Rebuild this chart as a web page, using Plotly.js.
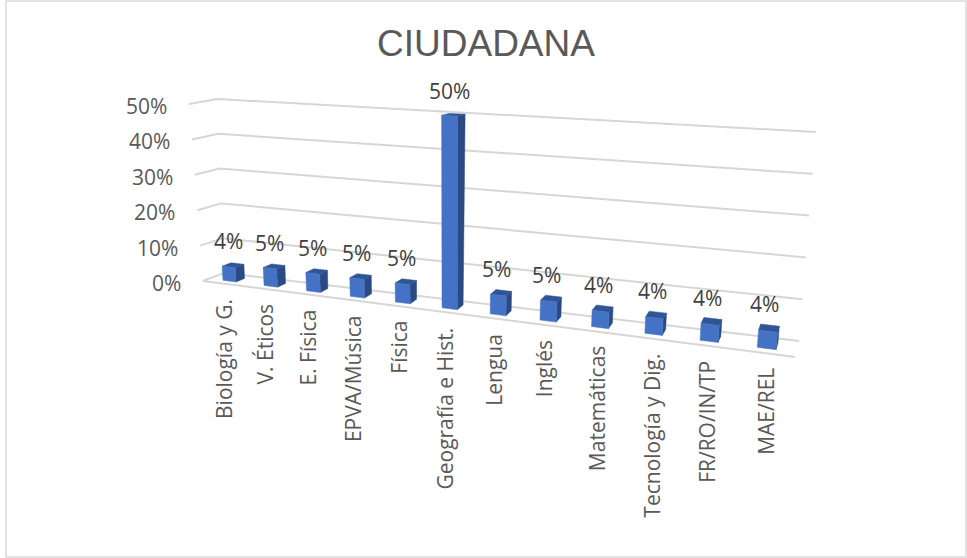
<!DOCTYPE html>
<html><head><meta charset="utf-8">
<script src="https://cdn.plot.ly/plotly-3.0.1.min.js"></script>
<style>html,body{margin:0;padding:0;background:#fff}#c{width:967px;height:558px}</style>
</head><body><div id="c"></div>
<script>
const categories = ["Biología y G.","V. Éticos","E. Física","EPVA/Música","Física","Geografía e Hist.","Lengua","Inglés","Matemáticas","Tecnología y Dig.","FR/RO/IN/TP","MAE/REL"];
const values = [4,5,5,5,5,50,5,5,4,4,4,4];
const axisTicks = [0,10,20,30,40,50];
const chartTitle = "CIUDADANA";

// Perspective box of the 3-D plot area (screen position of its corners)
const box = {
  fl0:[203,281], bl0:[224,273], br0:[799,341], fr0:[795,357],
  fl1:[189,104], bl1:[217,99],  br1:[816,132], fr1:[812,136]
};
const maxZ = 50, foreshorten = 1.22;
const lerp=(a,b,t)=>[a[0]+(b[0]-a[0])*t,a[1]+(b[1]-a[1])*t];
function P(u,d,z){
  const s=u/(u+foreshorten*(1-u));
  const bot=lerp(lerp(box.fl0,box.fr0,s),lerp(box.bl0,box.br0,s),d);
  const top=lerp(lerp(box.fl1,box.fr1,s),lerp(box.bl1,box.br1,s),d);
  return lerp(bot,top,z/maxZ);
}
function poly(pts,color){
  return {type:"scatter",mode:"lines",x:pts.map(p=>p[0]),y:pts.map(p=>p[1]),fill:"toself",
    fillcolor:color,line:{color:color,width:0.5},hoverinfo:"skip",showlegend:false};
}
function line(pts){
  return {type:"scatter",mode:"lines",x:pts.map(p=>p[0]),y:pts.map(p=>p[1]),
    line:{color:"#d6d6d6",width:2},hoverinfo:"skip",showlegend:false};
}
const traces=[];
axisTicks.forEach(t=>{
  traces.push(line([P(0,0,t),P(0,1,t),P(1,1,t)]));
});
traces.push(line([P(0,0,0),P(1,0,0)]));

const n=categories.length, halfW=0.16/n, d0=0.30, d1=0.72;
const annotations=[];
values.forEach((v,i)=>{
  const uc=(i+0.5)/n, a=uc-halfW, b=uc+halfW;
  traces.push(poly([P(b,d0,0),P(b,d1,0),P(b,d1,v),P(b,d0,v),P(b,d0,0)],"#2b4a84"));
  traces.push(poly([P(a,d0,v),P(b,d0,v),P(b,d1,v),P(a,d1,v),P(a,d0,v)],"#2f5597"));
  traces.push(poly([P(a,d0,0),P(b,d0,0),P(b,d0,v),P(a,d0,v),P(a,d0,0)],"#4472c4"));
  const top=P(uc,0.5,v);
  annotations.push({x:top[0]-4,y:top[1]-24,text:v+"%",showarrow:false,xanchor:"center",yanchor:"middle",
    font:{family:"Open Sans",size:21,color:"#404040"}});
  const base=P(uc,0,0);
  annotations.push({x:base[0],y:base[1]+13,text:categories[i],textangle:-90,showarrow:false,xanchor:"center",yanchor:"top",
    font:{family:"Open Sans",size:21,color:"#595959"}});
});
axisTicks.forEach(t=>{
  const p=P(0,0,t);
  annotations.push({x:p[0]-20,y:p[1]+2,text:t+"%",showarrow:false,xanchor:"right",yanchor:"middle",
    font:{family:"Open Sans",size:21,color:"#595959"}});
});
const layout={
  width:967,height:558,margin:{l:0,r:0,t:0,b:0},paper_bgcolor:"#fff",plot_bgcolor:"#fff",
  showlegend:false,
  title:{text:chartTitle,x:486/967,xanchor:"center",y:1-43/558,yanchor:"middle",
    font:{family:"Liberation Sans",size:37,color:"#595959"}},
  xaxis:{range:[0,967],visible:false,fixedrange:true},
  yaxis:{range:[558,0],visible:false,fixedrange:true},
  annotations,
  shapes:[{type:"rect",xref:"x",yref:"y",x0:6,y0:1,x1:966,y1:557,line:{color:"#d9d9d9",width:1.5},layer:"below"}]
};
Plotly.newPlot("c",traces,layout,{staticPlot:true,displayModeBar:false});
</script></body></html>
